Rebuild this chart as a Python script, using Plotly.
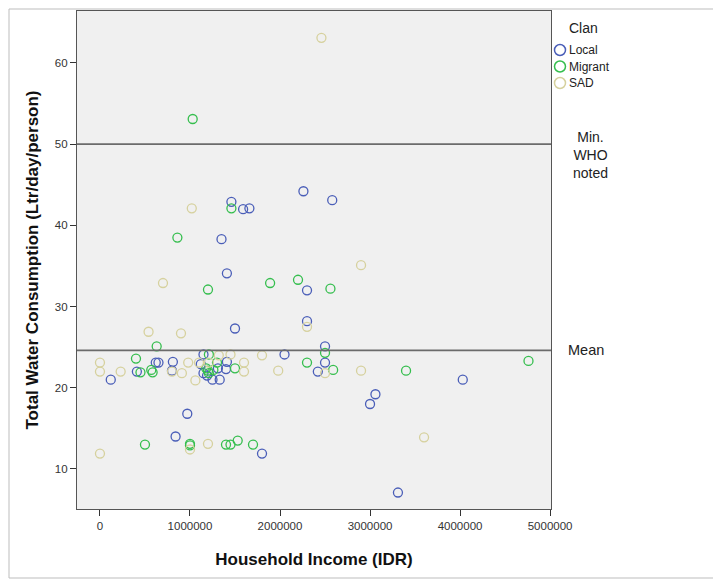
import plotly.graph_objects as go

# ---- data ----
local_income = [2.26e6, 2.58e6, 1.46e6, 1.59e6, 1.66e6, 1.35e6, 1.41e6, 2.30e6, 2.30e6, 1.50e6,
                2.50e6, 2.05e6, 2.50e6, 2.42e6, 3.06e6, 3.00e6, 4.03e6, 3.31e6, 0.97e6, 0.84e6,
                1.80e6, 0.12e6, 0.41e6, 0.62e6, 0.65e6, 0.81e6, 0.80e6, 1.15e6, 1.12e6, 1.15e6,
                1.19e6, 1.25e6, 1.33e6, 1.31e6, 1.41e6, 1.40e6]
local_water = [44.2, 43.1, 42.9, 42.0, 42.1, 38.3, 34.1, 32.0, 28.2, 27.3,
               25.1, 24.1, 23.1, 22.0, 19.2, 18.0, 21.0, 7.1, 16.8, 14.0,
               11.9, 21.0, 22.0, 23.1, 23.1, 23.2, 22.1, 24.1, 22.9, 21.8,
               21.5, 21.0, 21.0, 22.4, 23.2, 22.3]

migrant_income = [1.03e6, 1.46e6, 0.86e6, 1.20e6, 1.89e6, 2.20e6, 2.56e6, 0.63e6, 2.50e6, 0.40e6,
                  0.45e6, 0.57e6, 0.585e6, 1.21e6, 1.30e6, 1.20e6, 1.26e6, 1.50e6, 2.30e6, 2.59e6,
                  3.40e6, 4.76e6, 0.50e6, 1.00e6, 1.00e6, 1.40e6, 1.45e6, 1.53e6, 1.70e6, 1.18e6,
                  1.21e6]
migrant_water = [53.1, 42.1, 38.5, 32.1, 32.9, 33.3, 32.2, 25.1, 24.3, 23.6,
                 21.9, 22.2, 21.9, 24.1, 23.1, 22.1, 22.2, 22.4, 23.1, 22.2,
                 22.1, 23.3, 13.0, 13.1, 12.9, 13.0, 13.0, 13.5, 13.0, 22.4,
                 21.8]

sad_income = [2.46e6, 1.02e6, 0.70e6, 2.90e6, 0.54e6, 0.90e6, 2.30e6, 0.0, 0.0, 0.23e6,
              0.80e6, 0.91e6, 0.98e6, 1.06e6, 1.10e6, 1.32e6, 1.45e6, 1.80e6, 1.60e6, 1.60e6,
              1.98e6, 2.50e6, 2.90e6, 1.21e6, 1.00e6, 1.20e6, 3.60e6, 0.0]
sad_water = [63.1, 42.1, 32.9, 35.1, 26.9, 26.7, 27.5, 23.1, 22.0, 22.0,
             22.0, 21.8, 23.1, 20.9, 23.1, 24.0, 24.1, 24.0, 23.1, 22.0,
             22.1, 21.8, 22.1, 23.1, 12.4, 13.1, 13.9, 11.9]

clans = ["Local", "Migrant", "SAD"]
clan_colors = ["#4A5EB8", "#35BE4E", "#D6D19E"]

WHO_MIN = 50
MEAN = 24.6

x_ticks = [0, 1000000, 2000000, 3000000, 4000000, 5000000]
y_ticks = [10, 20, 30, 40, 50, 60]

# ---- layout geometry (page pixels; the page body adds an 8px offset) ----
W, H = 721, 584
OFF = 8
PL, PR, PT, PB = 77, 551, 11, 509          # plot box on the page
L, T = PL - OFF, PT - OFF
R, B = W - (PR - OFF), H - (PB - OFF)
PW, PH = PR - PL, PB - PT


def px_x(p):  # page pixel -> paper x
    return (p - PL) / PW


def px_y(p):  # page pixel -> paper y
    return 1 - (p - PT) / PH


FONT = "Liberation Sans, Arial, sans-serif"
fig = go.Figure()

xs_all = [local_income, migrant_income, sad_income]
ys_all = [local_water, migrant_water, sad_water]
for name, xs, ys, col in zip(clans, xs_all, ys_all, clan_colors):
    fig.add_trace(go.Scatter(
        x=xs, y=ys, mode="markers", name=name, showlegend=False,
        marker=dict(symbol="circle-open", size=9, color=col, line=dict(width=1.3, color=col)),
    ))

for val in (WHO_MIN, MEAN):
    fig.add_shape(type="line", xref="paper", x0=0, x1=1, yref="y", y0=val, y1=val,
                  line=dict(color="#6b6b6b", width=1.8), layer="above")

fig.add_annotation(xref="paper", yref="y", x=px_x(590), y=WHO_MIN, xanchor="center",
                   text="Min.<br>WHO<br>noted", showarrow=False, align="center",
                   font=dict(family=FONT, size=14, color="#222"), yshift=-11)
fig.add_annotation(xref="paper", yref="y", x=px_x(566), y=MEAN, xanchor="left",
                   text="Mean", showarrow=False, align="left",
                   font=dict(family=FONT, size=14.5, color="#222"))

# legend (drawn manually to match the compact layout)
fig.add_annotation(xref="paper", yref="paper", x=px_x(567), y=px_y(28), xanchor="left",
                   yanchor="middle", text="Clan", showarrow=False,
                   font=dict(family=FONT, size=14, color="#222"))
for i, (name, col) in enumerate(zip(clans, clan_colors)):
    cy = 50 + i * 16.5
    fig.add_shape(type="circle", xref="paper", yref="paper", xsizemode="pixel", ysizemode="pixel",
                  xanchor=px_x(560), yanchor=px_y(cy), x0=-5.5, x1=5.5, y0=-5.5, y1=5.5,
                  line=dict(color=col, width=1.5))
    fig.add_annotation(xref="paper", yref="paper", x=px_x(567), y=px_y(cy), xanchor="left",
                       yanchor="middle", text=name, showarrow=False,
                       font=dict(family=FONT, size=12, color="#222"))

# outer frame of the chart
fig.add_shape(type="rect", xref="paper", yref="paper",
              x0=px_x(9), x1=px_x(714), y0=px_y(578), y1=px_y(9),
              line=dict(color="#bdbdbd", width=1), layer="below")

fig.update_layout(
    width=W, height=H,
    margin=dict(l=L, r=R, t=T, b=B),
    paper_bgcolor="white", plot_bgcolor="#f0f0f0",
    font=dict(family=FONT, color="#333"),
    showlegend=False,
)
fig.update_xaxes(range=[-255000, 5010000], tickvals=x_ticks, ticktext=[str(v) for v in x_ticks],
                 ticks="outside", ticklen=6, tickcolor="#333", showgrid=False, zeroline=False,
                 showline=True, linecolor="#555", linewidth=1.2, mirror=True, automargin=False,
                 tickfont=dict(family=FONT, size=11.5, color="#333"),
                 title=dict(text="<b>Household Income (IDR)</b>", standoff=22,
                            font=dict(family=FONT, size=17, color="#111")))
fig.update_yaxes(range=[5.07, 66.4], tickvals=y_ticks,
                 ticks="outside", ticklen=6, tickcolor="#333", showgrid=False, zeroline=False,
                 showline=True, linecolor="#555", linewidth=1.2, mirror=True, automargin=False,
                 tickfont=dict(family=FONT, size=11.5, color="#333"),
                 title=dict(text="<b>Total Water Consumption (Ltr/day/person)</b>", standoff=11,
                            font=dict(family=FONT, size=17, color="#111")))

fig.write_html("out.html")
